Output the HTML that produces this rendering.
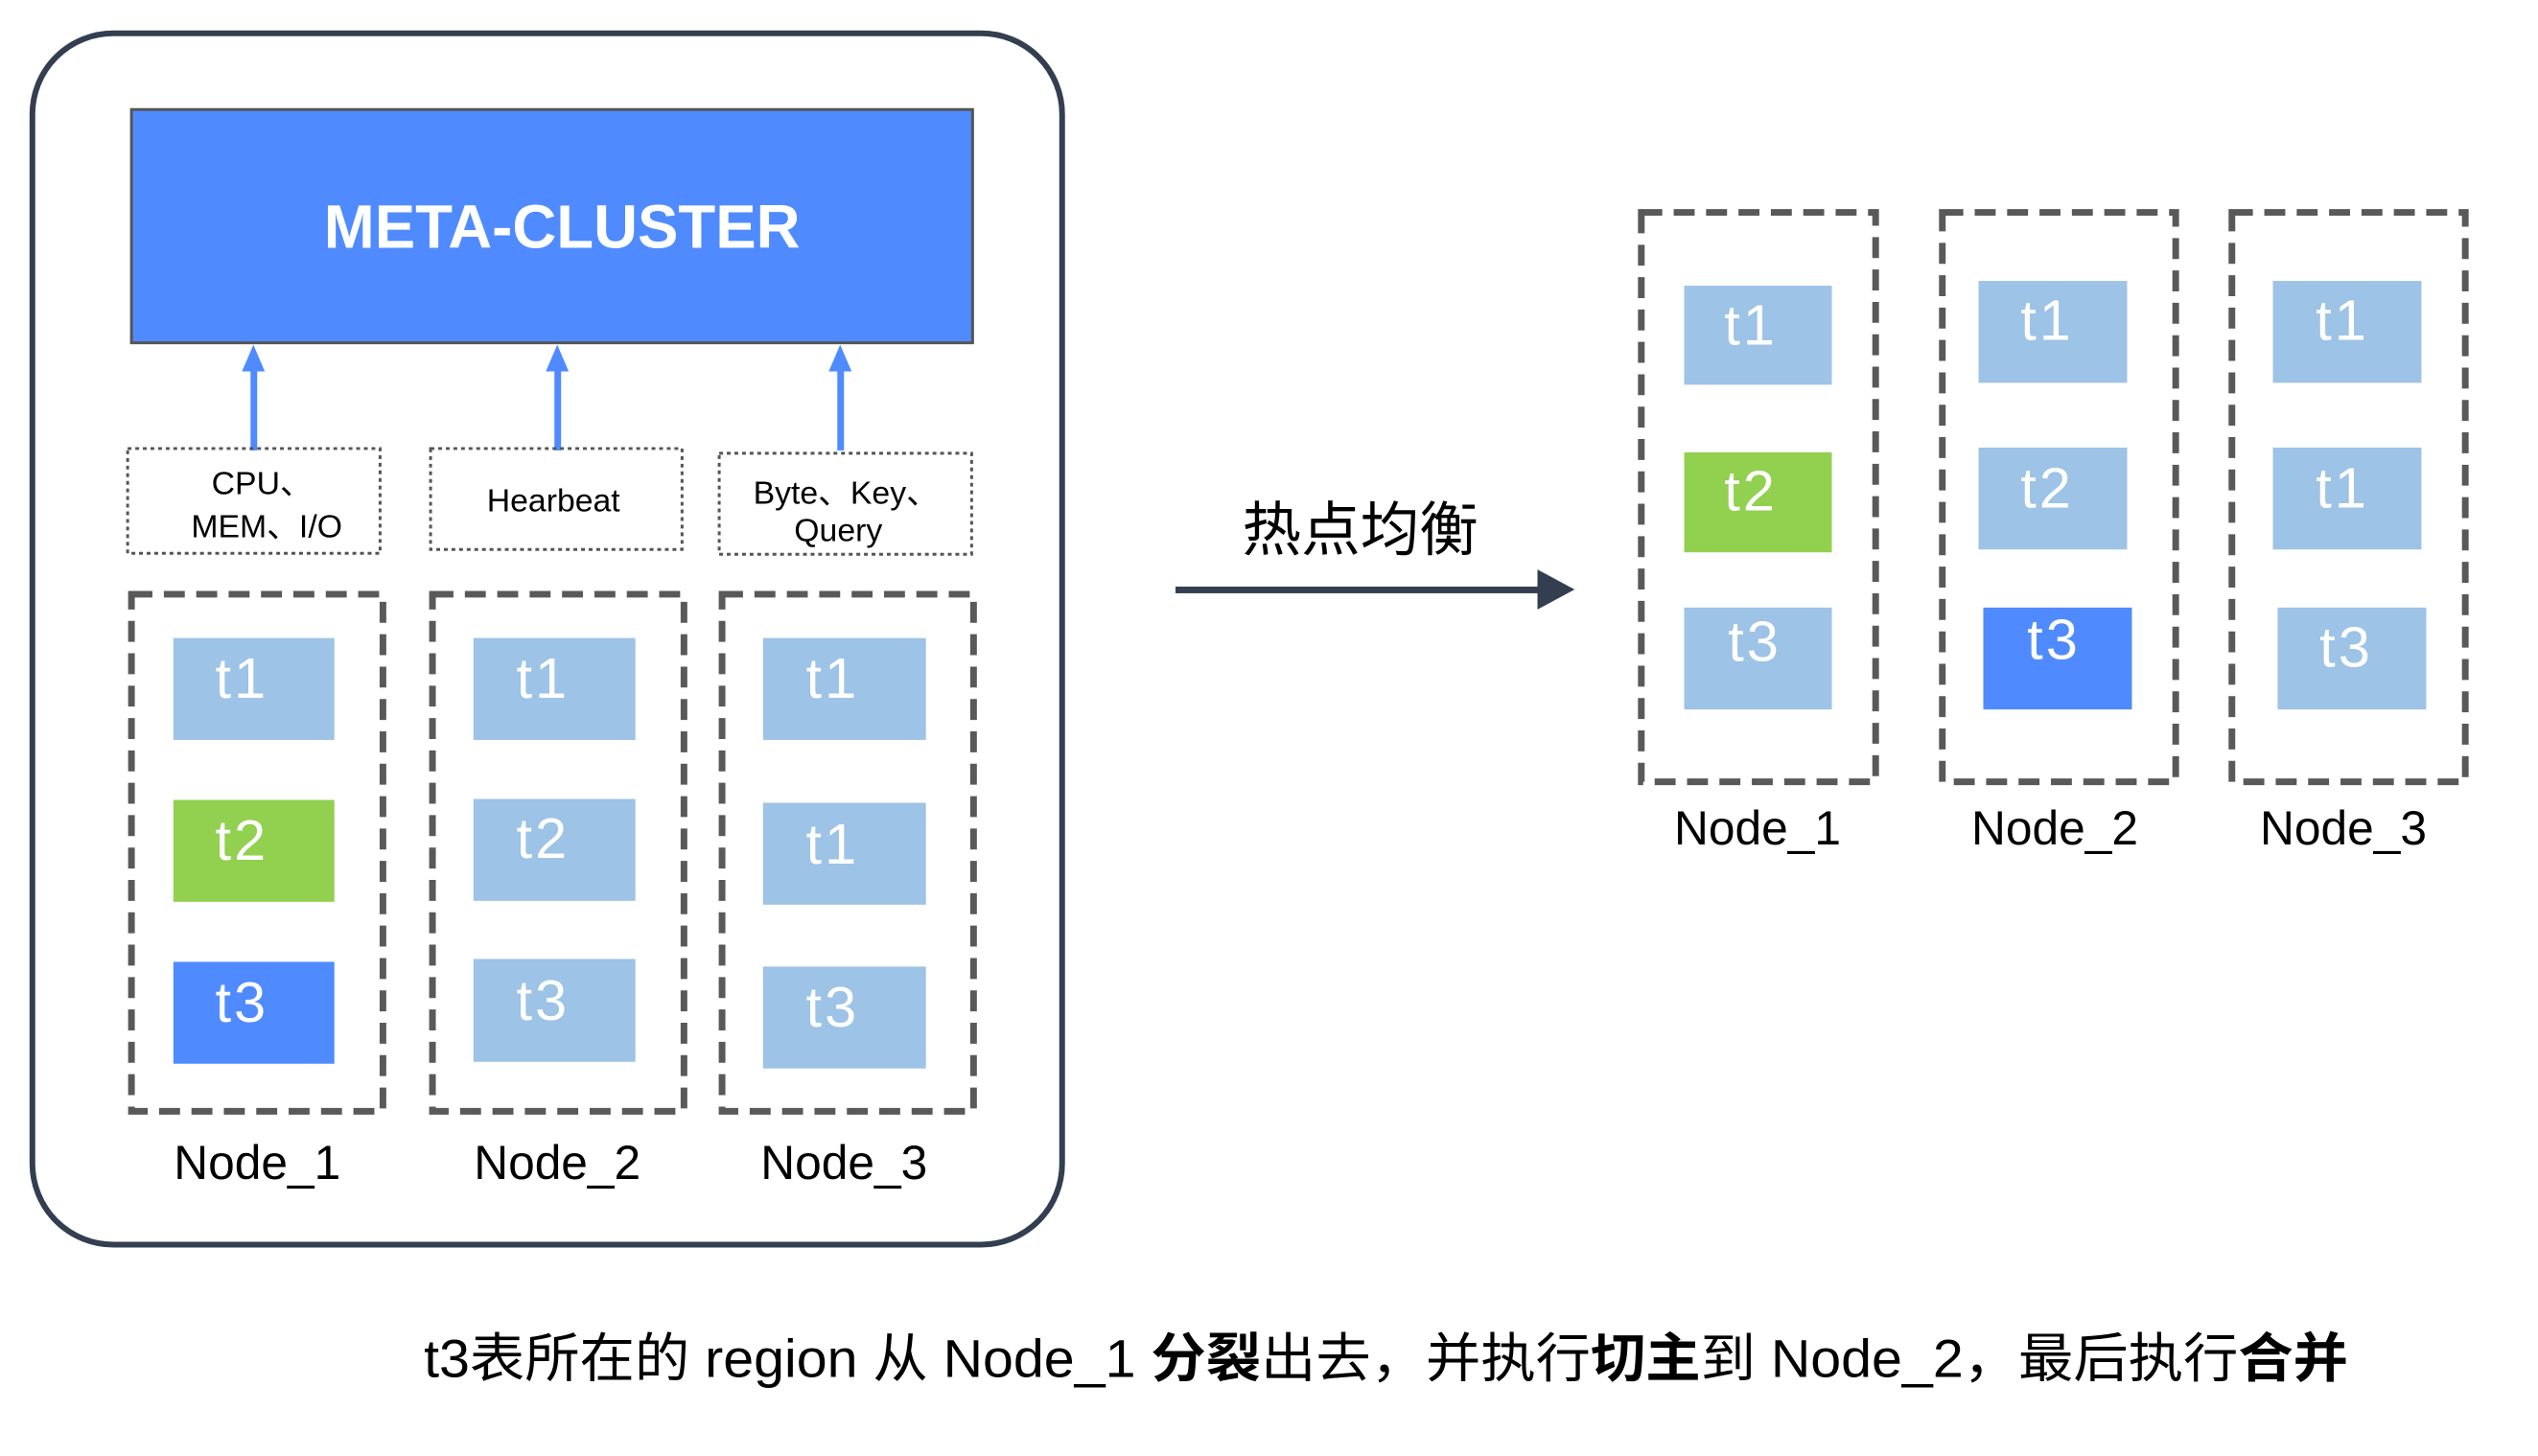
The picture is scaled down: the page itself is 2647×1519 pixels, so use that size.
<!DOCTYPE html>
<html><head><meta charset="utf-8"><style>
html,body{margin:0;padding:0;background:#fff;}
svg{display:block;}
text{font-family:"Liberation Sans","Noto Sans CJK SC",sans-serif;}
</style></head><body>
<svg width="2647" height="1519" viewBox="0 0 2647 1519" xmlns="http://www.w3.org/2000/svg">
<rect x="0" y="0" width="2647" height="1519" fill="#fff"/>
<g transform="scale(0.9935)">
<!-- outer rounded container -->
<rect x="34" y="35" width="1081" height="1272" rx="85" ry="85" fill="#fff" stroke="#333f50" stroke-width="6"/>
<!-- meta cluster -->
<rect x="138" y="115" width="883" height="245" fill="#4f8bff" stroke="#555" stroke-width="3"/>
<text x="590" y="260" font-size="64" font-weight="bold" fill="#fff" text-anchor="middle">META-CLUSTER</text>
<!-- arrows up -->
<g fill="#4f8bff">
<rect x="263" y="385" width="7" height="88"/><polygon points="266,362 254,390 278,390"/>
<rect x="582" y="385" width="7" height="88"/><polygon points="585,362 573,390 597,390"/>
<rect x="879" y="385" width="7" height="88"/><polygon points="882,362 870,390 894,390"/>
</g>
<!-- dotted label boxes -->
<g fill="none" stroke="#555" stroke-width="3" stroke-dasharray="4 4">
<rect x="134" y="471" width="265" height="110"/>
<rect x="452" y="471" width="264" height="106"/>
<rect x="755" y="476" width="265" height="106"/>
</g>
<g font-size="34" fill="#000" text-anchor="middle">
<text x="275" y="519">CPU、</text>
<text x="280" y="564">MEM、I/O</text>
<text x="581" y="537">Hearbeat</text>
<text x="888" y="529">Byte、Key、</text>
<text x="880" y="568">Query</text>
</g>
<!-- left node dashed boxes -->
<g fill="none" stroke="#595959" stroke-width="7" stroke-dasharray="22 12">
<rect x="138" y="624" width="264" height="543"/>
<rect x="454" y="624" width="264" height="543"/>
<rect x="758" y="624" width="264" height="543"/>
</g>
<!-- left tiles -->
<g>
<rect x="182" y="670" width="169" height="107" fill="#9dc3e6"/>
<rect x="182" y="840" width="169" height="107" fill="#92d050"/>
<rect x="182" y="1010" width="169" height="107" fill="#4f8bff"/>
<rect x="497" y="670" width="170" height="107" fill="#9dc3e6"/>
<rect x="497" y="839" width="170" height="107" fill="#9dc3e6"/>
<rect x="497" y="1007" width="170" height="108" fill="#9dc3e6"/>
<rect x="801" y="670" width="171" height="107" fill="#9dc3e6"/>
<rect x="801" y="843" width="171" height="107" fill="#9dc3e6"/>
<rect x="801" y="1015" width="171" height="107" fill="#9dc3e6"/>
</g>
<g font-size="60" fill="#fff" letter-spacing="3">
<text x="226" y="733">t1</text>
<text x="226" y="903">t2</text>
<text x="226" y="1073">t3</text>
<text x="542" y="733">t1</text>
<text x="542" y="901">t2</text>
<text x="542" y="1071">t3</text>
<text x="846" y="733">t1</text>
<text x="846" y="907">t1</text>
<text x="846" y="1078">t3</text>
</g>
<g font-size="50" fill="#000" text-anchor="middle">
<text x="270" y="1238">Node_1</text>
<text x="585" y="1238">Node_2</text>
<text x="886" y="1238">Node_3</text>
</g>
<!-- middle arrow -->
<rect x="1234" y="616" width="395" height="7" fill="#333f50"/>
<polygon points="1653,619 1614,598 1614,640" fill="#333f50"/>
<text x="1428" y="578" font-size="62" fill="#000" text-anchor="middle">热点均衡</text>
<!-- right dashed boxes -->
<g fill="none" stroke="#595959" stroke-width="7" stroke-dasharray="22 12">
<rect x="1723" y="223" width="246" height="598"/>
<rect x="2039" y="223" width="245" height="598"/>
<rect x="2343" y="223" width="245" height="598"/>
</g>
<g>
<rect x="1768" y="300" width="155" height="104" fill="#9dc3e6"/>
<rect x="1768" y="475" width="155" height="105" fill="#92d050"/>
<rect x="1768" y="638" width="155" height="107" fill="#9dc3e6"/>
<rect x="2077" y="295" width="156" height="107" fill="#9dc3e6"/>
<rect x="2077" y="470" width="156" height="107" fill="#9dc3e6"/>
<rect x="2082" y="638" width="156" height="107" fill="#4f8bff"/>
<rect x="2386" y="295" width="156" height="107" fill="#9dc3e6"/>
<rect x="2386" y="470" width="156" height="107" fill="#9dc3e6"/>
<rect x="2391" y="638" width="156" height="107" fill="#9dc3e6"/>
</g>
<g font-size="60" fill="#fff" letter-spacing="3">
<text x="1810" y="362">t1</text>
<text x="1810" y="536">t2</text>
<text x="1814" y="694">t3</text>
<text x="2121" y="357">t1</text>
<text x="2121" y="533">t2</text>
<text x="2128" y="692">t3</text>
<text x="2431" y="357">t1</text>
<text x="2431" y="533">t1</text>
<text x="2435" y="700">t3</text>
</g>
<g font-size="50" fill="#000" text-anchor="middle">
<text x="1845" y="887">Node_1</text>
<text x="2157" y="887">Node_2</text>
<text x="2460" y="887">Node_3</text>
</g>
<!-- bottom caption -->
<text x="445" y="1446" font-size="56" fill="#000" textLength="2020" lengthAdjust="spacingAndGlyphs">t3表所在的 region 从 Node_1 <tspan font-weight="bold">分裂</tspan>出去，并执行<tspan font-weight="bold">切主</tspan>到 Node_2，最后执行<tspan font-weight="bold">合并</tspan></text>
</g>
</svg>
</body></html>
